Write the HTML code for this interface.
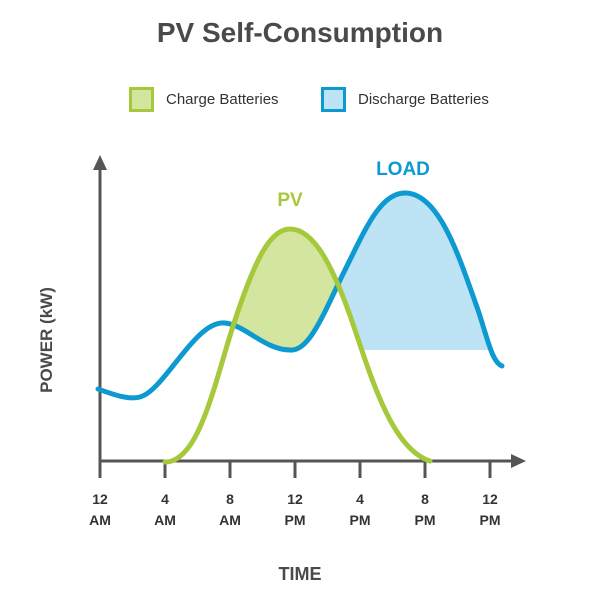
<!DOCTYPE html>
<html><head><meta charset="utf-8"><style>
html,body{margin:0;padding:0;background:#fff;}
svg{display:block;font-family:"Liberation Sans",sans-serif;}
</style></head><body>
<svg width="600" height="600" viewBox="0 0 600 600">
<defs>
<path id="load" d="M98,389 C115,395 128,400 140,397 C165,390 195,320 225,323 C245,325 265,350 290,350 C310,352 325,310 345,270 C365,230 380,193 405,193 C440,193 460,260 478,310 C488,340 492,362 502,366"/>
<path id="pv" d="M165,462 C200,462 215,380 235,320 C255,260 270,229 290,229 C315,229 335,270 355,330 C375,390 395,450 430,461"/>
<mask id="notLoad"><rect width="600" height="600" fill="#fff"/><path d="M98,389 C115,395 128,400 140,397 C165,390 195,320 225,323 C245,325 265,350 290,350 C310,352 325,310 345,270 C365,230 380,193 405,193 C440,193 460,260 478,310 C488,340 492,362 502,366 L502,600 L98,600 Z" fill="#000"/></mask>
<mask id="notPV"><rect width="600" height="600" fill="#fff"/><path d="M165,462 C200,462 215,380 235,320 C255,260 270,229 290,229 C315,229 335,270 355,330 C375,390 395,450 430,461 Z" fill="#000"/><rect x="0" y="350" width="600" height="250" fill="#000"/><rect x="0" y="0" width="335" height="600" fill="#000"/></mask>
</defs>
<text x="300" y="42" text-anchor="middle" font-size="28" font-weight="bold" fill="#4a4a4a">PV Self-Consumption</text>
<rect x="130.5" y="88.5" width="22" height="22" fill="#d4e5a0" stroke="#a5c93a" stroke-width="3"/>
<text x="166" y="104" font-size="15" fill="#333">Charge Batteries</text>
<rect x="322.5" y="88.5" width="22" height="22" fill="#bde3f4" stroke="#0c9ad0" stroke-width="3"/>
<text x="358" y="104" font-size="15" fill="#333">Discharge Batteries</text>
<path d="M165,462 C200,462 215,380 235,320 C255,260 270,229 290,229 C315,229 335,270 355,330 C375,390 395,450 430,461 Z" fill="#d4e5a0" mask="url(#notLoad)"/>
<path d="M98,389 C115,395 128,400 140,397 C165,390 195,320 225,323 C245,325 265,350 290,350 C310,352 325,310 345,270 C365,230 380,193 405,193 C440,193 460,260 478,310 C488,340 492,362 502,366 L502,600 L98,600 Z" fill="#bde3f4" mask="url(#notPV)"/>
<g stroke="#555" stroke-width="3" fill="none">
<line x1="100" y1="165" x2="100" y2="478"/>
<line x1="100" y1="461" x2="512" y2="461"/>
<line x1="165" y1="461" x2="165" y2="478"/>
<line x1="230" y1="461" x2="230" y2="478"/>
<line x1="295" y1="461" x2="295" y2="478"/>
<line x1="360" y1="461" x2="360" y2="478"/>
<line x1="425" y1="461" x2="425" y2="478"/>
<line x1="490" y1="461" x2="490" y2="478"/>
</g>
<polygon points="100,155 93,170 107,170" fill="#555"/>
<polygon points="526,461 511,454 511,468" fill="#555"/>
<use href="#load" fill="none" stroke="#0c9ad0" stroke-width="5" stroke-linecap="round"/>
<use href="#pv" fill="none" stroke="#a5c93a" stroke-width="5" stroke-linecap="round"/>
<text x="290" y="206" text-anchor="middle" font-size="19" font-weight="bold" fill="#a5c93a">PV</text>
<text x="403" y="175" text-anchor="middle" font-size="19" font-weight="bold" fill="#0c9ad0">LOAD</text>
<g font-size="14" font-weight="bold" fill="#333" text-anchor="middle">
<text x="100" y="504">12</text><text x="100" y="525">AM</text>
<text x="165" y="504">4</text><text x="165" y="525">AM</text>
<text x="230" y="504">8</text><text x="230" y="525">AM</text>
<text x="295" y="504">12</text><text x="295" y="525">PM</text>
<text x="360" y="504">4</text><text x="360" y="525">PM</text>
<text x="425" y="504">8</text><text x="425" y="525">PM</text>
<text x="490" y="504">12</text><text x="490" y="525">PM</text>
</g>
<text x="300" y="580" text-anchor="middle" font-size="18" font-weight="bold" fill="#4a4a4a">TIME</text>
<text transform="translate(52,340) rotate(-90)" text-anchor="middle" font-size="17" font-weight="bold" fill="#4a4a4a">POWER (kW)</text>
</svg>
</body></html>
